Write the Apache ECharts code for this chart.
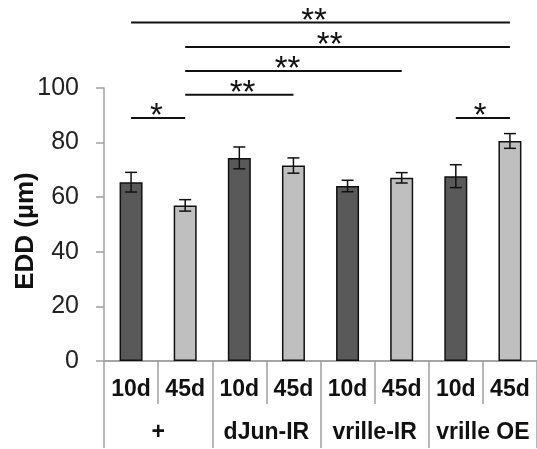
<!DOCTYPE html>
<html>
<head>
<meta charset="utf-8">
<script src="https://cdn.jsdelivr.net/npm/echarts@6/dist/echarts.min.js"></script>
<style>html,body{margin:0;padding:0;background:#fff}#c{width:537px;height:449px}</style>
</head>
<body>
<div id="c"></div>
<script>
// ---- data ----
const dayLabels = ['10d','45d','10d','45d','10d','45d','10d','45d'];
const groupLabels = ['+','dJun-IR','vrille-IR','vrille OE'];
const means = [65.5, 57.0, 74.4, 71.6, 64.1, 67.1, 67.7, 80.6];
const errors = [3.6, 2.1, 4.0, 2.8, 2.1, 1.9, 4.2, 2.7];
const yTicks = [0, 20, 40, 60, 80, 100];
// significance comparisons: [fromBar, toBar, level (y value), label x (category units), label]
const sigFrom = [0, 1, 1, 1, 0, 6];
const sigTo = [7, 7, 5, 3, 1, 7];
const sigLevel = [124, 115, 106.2, 97.5, 89, 89];
const sigLabelX = [3.38, 3.67, 2.89, 2.06, 0.47, 6.45];
const sigText = ['**', '**', '**', '**', '*', '*'];

const FONT = "'Liberation Sans', Arial, sans-serif";
const DARK = '#595959', LIGHT = '#bfbfbf', AXIS = '#a0a0a0';

const barData = means.map((v, i) => ({
  value: v,
  itemStyle: { color: dayLabels[i] === '10d' ? DARK : LIGHT }
}));
const errData = means.map((v, i) => [i, v - errors[i], v + errors[i]]);
const sigData = sigFrom.map((f, i) => [f, sigTo[i], sigLevel[i], sigLabelX[i], sigText[i]]);

const chart = echarts.init(document.getElementById('c'));
chart.setOption({
  animation: false,
  grid: { left: 104, right: 0, top: 88, bottom: 88, containLabel: false, outerBoundsMode: 'none' },
  xAxis: [
    {
      type: 'category', data: dayLabels, position: 'bottom',
      axisLine: { lineStyle: { color: AXIS, width: 1.5 } },
      axisTick: { show: true, interval: 0, length: 43, lineStyle: { color: AXIS, width: 1.5 } },
      axisLabel: { interval: 0, margin: 17, fontFamily: FONT, fontSize: 23, fontWeight: 'bold', color: '#111' }
    },
    {
      type: 'category', data: groupLabels, position: 'bottom', offset: 0,
      axisLine: { lineStyle: { color: AXIS, width: 1.5 } },
      axisTick: { show: true, interval: 0, length: 87, lineStyle: { color: AXIS, width: 1.5 } },
      axisLabel: { interval: 0, margin: 60, fontFamily: FONT, fontSize: 23, fontWeight: 'bold', color: '#111' }
    }
  ],
  yAxis: {
    type: 'value', min: yTicks[0], max: yTicks[yTicks.length - 1], interval: 20,
    name: 'EDD (µm)', nameLocation: 'middle', nameRotate: 90, nameGap: 65, nameMoveOverlap: false,
    nameTextStyle: { fontFamily: FONT, fontSize: 26, fontWeight: 'bold', color: '#111', padding: [0, 13, 0, 0] },
    axisLine: { show: true, lineStyle: { color: AXIS, width: 1.5 } },
    axisTick: { show: true, length: 8, lineStyle: { color: AXIS, width: 1.5 } },
    splitLine: { show: false },
    axisLabel: { margin: 25, fontFamily: FONT, fontSize: 25, color: '#222' }
  },
  series: [
    {
      type: 'bar', xAxisIndex: 0, data: barData, barWidth: 23,
      itemStyle: { borderColor: '#111', borderWidth: 1.5 }
    },
    {
      type: 'custom', xAxisIndex: 0, data: errData, z: 5, clip: false,
      encode: { x: 0, y: [1, 2] },
      renderItem: (params, api) => {
        const x = api.value(0);
        const p1 = api.coord([x, api.value(1)]);
        const p2 = api.coord([x, api.value(2)]);
        const h = 6;
        const st = { stroke: '#111', lineWidth: 1.5 };
        return { type: 'group', children: [
          { type: 'line', shape: { x1: p1[0], y1: p1[1], x2: p2[0], y2: p2[1] }, style: st },
          { type: 'line', shape: { x1: p1[0] - h, y1: p1[1], x2: p1[0] + h, y2: p1[1] }, style: st },
          { type: 'line', shape: { x1: p2[0] - h, y1: p2[1], x2: p2[0] + h, y2: p2[1] }, style: st }
        ]};
      }
    },
    {
      type: 'custom', xAxisIndex: 0, data: sigData, z: 6, clip: false,
      encode: { x: [0, 1], y: 2 },
      renderItem: (params, api) => {
        const d = sigData[params.dataIndex];
        const a = api.coord([d[0], d[2]]);
        const b = api.coord([d[1], d[2]]);
        // fractional category position: interpolate between neighbouring category centres
        const i0 = Math.floor(d[3]);
        const c0 = api.coord([i0, d[2]])[0];
        const c1 = api.coord([i0 + 1, d[2]])[0];
        const lx = c0 + (c1 - c0) * (d[3] - i0);
        return { type: 'group', children: [
          { type: 'line', shape: { x1: a[0], y1: a[1], x2: b[0], y2: b[1] }, style: { stroke: '#111', lineWidth: 2 } },
          { type: 'text', x: lx, y: a[1] - 1, style: { text: d[4], fontFamily: FONT, fontSize: 33, fill: '#111', align: 'center', verticalAlign: 'middle' } }
        ]};
      }
    }
  ]
});
</script>
</body>
</html>
